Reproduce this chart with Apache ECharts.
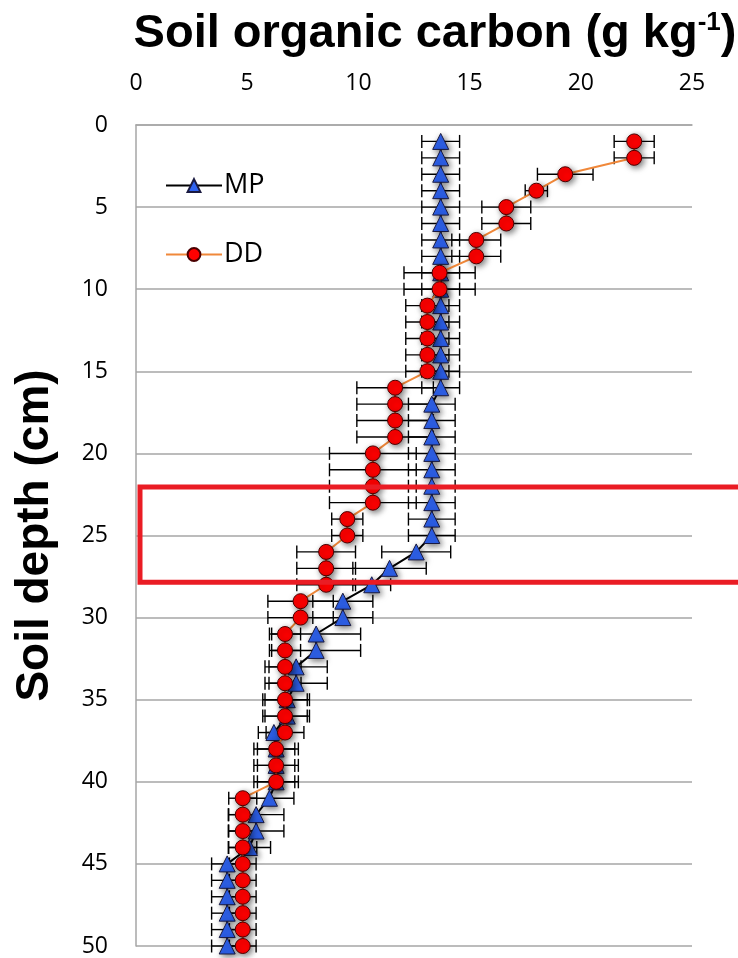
<!DOCTYPE html>
<html>
<head>
<meta charset="utf-8">
<script src="https://cdn.jsdelivr.net/npm/echarts@6/dist/echarts.min.js"></script>
<style>
  html, body { margin: 0; padding: 0; background: #fff; }
  #chart { width: 738px; height: 958px; }
</style>
</head>
<body>
<div id="chart"></div>
<script>
// soil depth (cm), one point per cm
var depths = [1, 2, 3, 4, 5, 6, 7, 8, 9, 10,
    11, 12, 13, 14, 15, 16, 17, 18, 19, 20,
    21, 22, 23, 24, 25, 26, 27, 28, 29, 30,
    31, 32, 33, 34, 35, 36, 37, 38, 39, 40,
    41, 42, 43, 44, 45, 46, 47, 48, 49, 50];

// MP: soil organic carbon (g/kg) and error
var mpValues = [13.7, 13.7, 13.7, 13.7, 13.7, 13.7, 13.7, 13.7, 13.7, 13.7,
    13.7, 13.7, 13.7, 13.7, 13.7, 13.7, 13.3, 13.3, 13.3, 13.3,
    13.3, 13.3, 13.3, 13.3, 13.3, 12.6, 11.4, 10.6, 9.3, 9.3,
    8.1, 8.1, 7.2, 7.2, 6.8, 6.8, 6.2, 6.3, 6.3, 6.3,
    6.0, 5.4, 5.4, 5.1, 4.1, 4.1, 4.1, 4.1, 4.1, 4.1];
var mpErrors = [0.85, 0.85, 0.85, 0.85, 0.85, 0.85, 0.85, 0.85, 0.85, 0.85,
    0.85, 0.85, 0.85, 0.85, 0.85, 0.85, 1.05, 1.05, 1.05, 1.05,
    1.05, 1.05, 1.05, 1.05, 1.05, 1.55, 1.65, 0.85, 1.35, 1.35,
    2.0, 2.0, 1.4, 1.4, 1.0, 1.0, 0.7, 1.0, 1.0, 1.0,
    1.1, 1.25, 1.25, 0.95, 0.7, 0.7, 0.7, 0.7, 0.7, 0.7];

// DD
var ddValues = [22.4, 22.4, 19.3, 18.0, 16.65, 16.65, 15.3, 15.3, 13.65, 13.65,
    13.1, 13.1, 13.1, 13.1, 13.1, 11.65, 11.65, 11.65, 11.65, 10.65,
    10.65, 10.65, 10.65, 9.5, 9.5, 8.55, 8.55, 8.55, 7.4, 7.4,
    6.7, 6.7, 6.7, 6.7, 6.7, 6.7, 6.7, 6.3, 6.3, 6.3,
    4.8, 4.8, 4.8, 4.8, 4.8, 4.8, 4.8, 4.8, 4.8, 4.8];
var ddErrors = [0.9, 0.9, 1.25, 0.5, 1.1, 1.1, 1.1, 1.1, 1.6, 1.6,
    0.97, 0.97, 0.97, 0.97, 0.97, 1.72, 1.72, 1.72, 1.72, 1.95,
    1.95, 1.95, 1.95, 0.7, 0.7, 1.32, 1.32, 1.32, 1.47, 1.47,
    0.7, 0.7, 0.72, 0.72, 1.0, 1.0, 0.85, 0.84, 0.84, 0.84,
    0.63, 0.63, 0.63, 0.63, 0.6, 0.6, 0.6, 0.6, 0.6, 0.6];

var xTicks = [0, 5, 10, 15, 20, 25];
var highlightDepth = [22.05, 27.85];

var labelFont = '"Open Sans", sans-serif';
var boldFont = '"Liberation Sans", Arial, sans-serif';

function pairs(vals) {
    return vals.map(function (v, i) { return [v, depths[i]]; });
}
function errData(vals, errs) {
    return vals.map(function (v, i) { return [v - errs[i], v + errs[i], depths[i]]; });
}

function renderErr(params, api) {
    var lo = api.coord([api.value(0), api.value(2)]);
    var hi = api.coord([api.value(1), api.value(2)]);
    var h = 6.5;
    var st = { stroke: '#000', lineWidth: 1.4 };
    return {
        type: 'group',
        children: [
            { type: 'line', shape: { x1: lo[0], y1: lo[1], x2: hi[0], y2: hi[1] }, style: st },
            { type: 'line', shape: { x1: lo[0], y1: lo[1] - h, x2: lo[0], y2: lo[1] + h }, style: st },
            { type: 'line', shape: { x1: hi[0], y1: hi[1] - h, x2: hi[0], y2: hi[1] + h }, style: st }
        ]
    };
}

var chart = echarts.init(document.getElementById('chart'));

var option = {
    animation: false,
    title: {
        text: '{t|Soil organic carbon (g kg}{s|-1}{t|)}',
        left: 430,
        textAlign: 'center',
        top: 5,
        textStyle: {
            rich: {
                t: { fontFamily: boldFont, fontWeight: 'bold', fontSize: 47, color: '#000', verticalAlign: 'bottom' },
                s: { fontFamily: boldFont, fontSize: 26, color: '#000', verticalAlign: 'top', padding: [0, 0, 22, 0] }
            }
        }
    },
    legend: {
        data: ['MP', 'DD'],
        orient: 'vertical',
        left: 160,
        top: 167,
        itemWidth: 56,
        itemHeight: 16,
        itemGap: 42,
        textStyle: { fontFamily: labelFont, fontSize: 27, color: '#000', padding: [0, 0, 0, -3] }
    },
    grid: { left: 136, top: 125, right: 46, bottom: 12, containLabel: false },
    xAxis: {
        type: 'value',
        position: 'top',
        min: 0,
        max: 25,
        interval: 5,
        axisLine: { show: true, lineStyle: { color: '#a6a6a6', width: 1.5 } },
        axisTick: { show: false },
        splitLine: { show: false },
        axisLabel: {
            margin: 30,
            fontFamily: labelFont,
            fontSize: 23,
            color: '#000',
            formatter: function (v) { return xTicks.indexOf(v) >= 0 ? String(v) : ''; }
        }
    },
    yAxis: {
        type: 'value',
        inverse: true,
        min: 0,
        max: 50,
        interval: 5,
        name: 'Soil depth (cm)',
        nameLocation: 'middle',
        nameRotate: 90,
        nameGap: 78,
        nameTextStyle: { fontFamily: boldFont, fontWeight: 'bold', fontSize: 46, color: '#000' },
        axisLine: { show: true, lineStyle: { color: '#a6a6a6', width: 1.5 } },
        axisTick: { show: false },
        splitLine: { show: true, lineStyle: { color: '#a6a6a6', width: 1.5 } },
        axisLabel: { margin: 28, fontFamily: labelFont, fontSize: 23, color: '#000' }
    },
    series: [
        {
            name: 'MP err',
            type: 'custom',
            renderItem: renderErr,
            encode: { x: [0, 1], y: 2 },
            data: errData(mpValues, mpErrors),
            z: 1
        },
        {
            name: 'DD err',
            type: 'custom',
            renderItem: renderErr,
            encode: { x: [0, 1], y: 2 },
            data: errData(ddValues, ddErrors),
            z: 1
        },
        {
            name: 'MP',
            type: 'line',
            data: pairs(mpValues),
            symbol: 'triangle',
            symbolSize: 16,
            lineStyle: { color: '#000', width: 2 },
            itemStyle: {
                color: '#2f63f0', borderColor: '#1a1a40', borderWidth: 1,
                shadowBlur: 6, shadowColor: 'rgba(0,0,0,0.55)', shadowOffsetX: 2, shadowOffsetY: 2
            },
            z: 3
        },
        {
            name: 'DD',
            type: 'line',
            data: pairs(ddValues),
            symbol: 'circle',
            symbolSize: 15,
            lineStyle: { color: '#f0883a', width: 2 },
            itemStyle: {
                color: '#ff0000', borderColor: '#4a0000', borderWidth: 1,
                shadowBlur: 6, shadowColor: 'rgba(0,0,0,0.55)', shadowOffsetX: 2, shadowOffsetY: 2
            },
            z: 4
        }
    ]
};

chart.setOption(option);

// red box around the 22-28 cm layer
var p1 = chart.convertToPixel({ gridIndex: 0 }, [0.18, highlightDepth[0]]);
var p2 = chart.convertToPixel({ gridIndex: 0 }, [0.18, highlightDepth[1]]);
chart.setOption({
    graphic: [{
        type: 'rect',
        z: 100,
        shape: { x: p1[0], y: p1[1], width: chart.getWidth() - p1[0] + 20, height: p2[1] - p1[1] },
        style: { fill: 'none', stroke: '#ea1c24', lineWidth: 5 }
    }]
});
</script>
</body>
</html>
